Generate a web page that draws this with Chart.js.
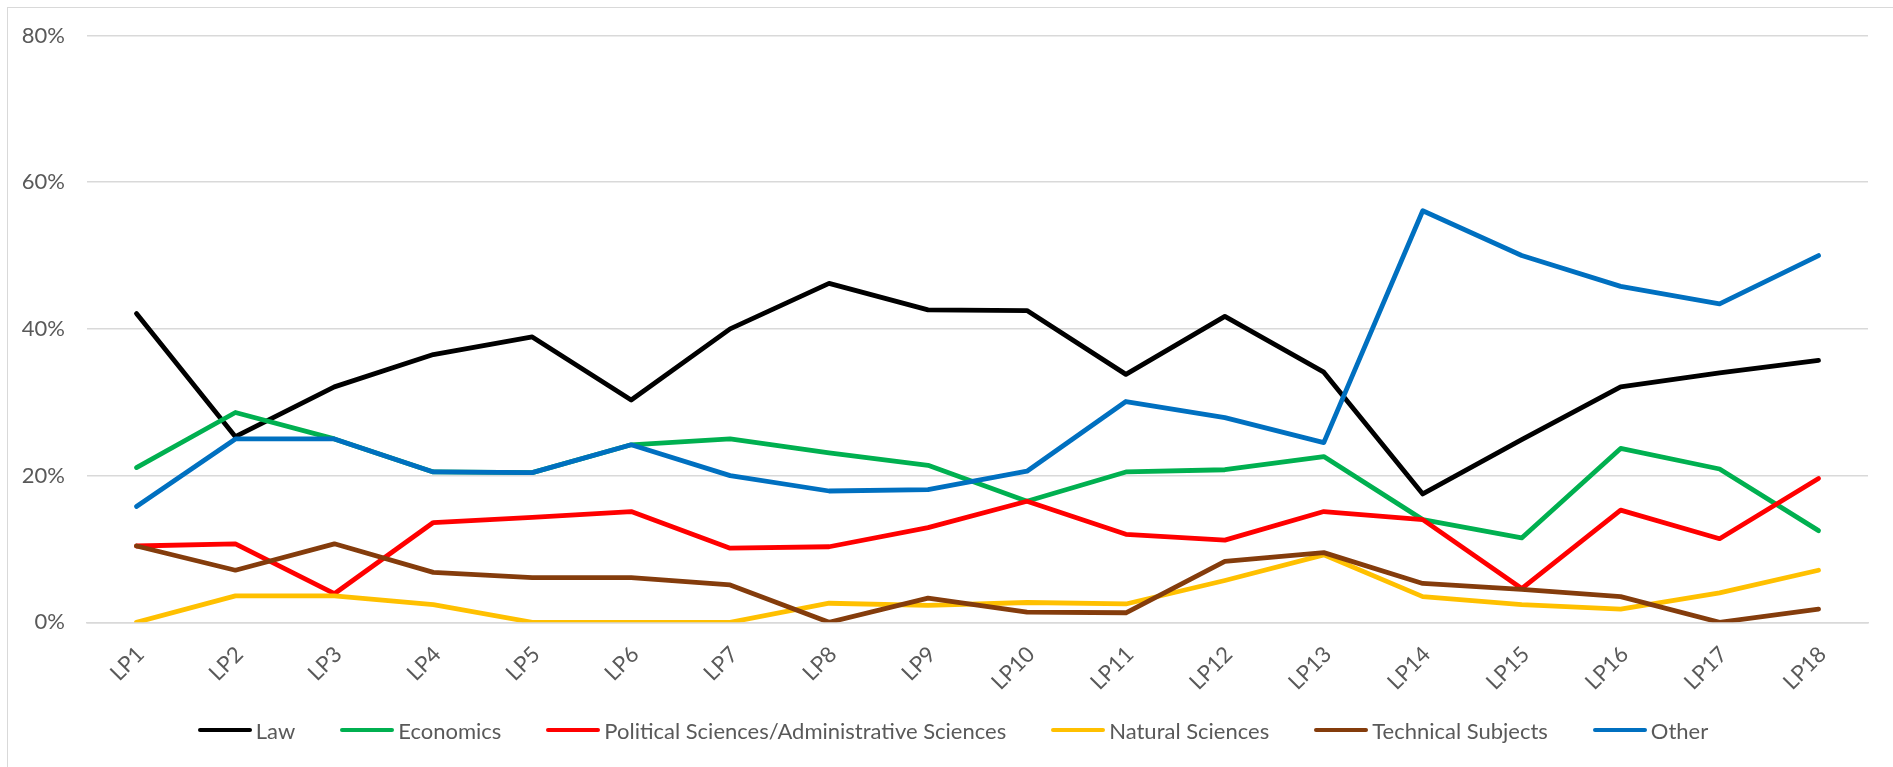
<!DOCTYPE html>
<html>
<head>
<meta charset="utf-8">
<title>Study backgrounds by LP</title>
<script src="https://cdn.jsdelivr.net/npm/chart.js@4.4.1/dist/chart.umd.min.js"></script>
<style>
  html, body { margin: 0; padding: 0; background: #fff; overflow: hidden; }
  #wrap { position: relative; width: 1893px; height: 767px; }
  #frame {
    position: absolute; left: 7px; top: 7px; width: 1910px; height: 800px;
    border: 1.5px solid #d9d9d9; box-sizing: border-box; pointer-events: none;
  }
  #chart { position: absolute; left: 0; top: 0; }
  #legend {
    position: absolute; left: 0; width: 1906px; top: 715px; height: 30px;
    display: flex; justify-content: center; align-items: center;
    font-family: Lato, "Liberation Sans", sans-serif; font-size: 22px; color: #595959;
  }
  #legend .item { display: flex; align-items: center; margin-right: 45px; white-space: nowrap; }
  #legend .item:last-child { margin-right: 0; }
  #legend .swatch { width: 54px; height: 4.8px; border-radius: 3px; margin-right: 4px; }
</style>
</head>
<body>
<div id="wrap">
  <div id="frame"></div>
  <canvas id="chart" width="1893" height="767"></canvas>
  <div id="legend"></div>
</div>
<script>
// values in percent
var LABELS = ['LP1', 'LP2', 'LP3', 'LP4', 'LP5', 'LP6', 'LP7', 'LP8', 'LP9',
  'LP10', 'LP11', 'LP12', 'LP13', 'LP14', 'LP15', 'LP16', 'LP17', 'LP18'];

var LAW = [42.1, 25.3, 32.1, 36.5, 38.9, 30.3, 40.0, 46.2, 42.6,
  42.5, 33.8, 41.7, 34.1, 17.5, 24.9, 32.1, 34.0, 35.7];
var ECONOMICS = [21.1, 28.6, 25.0, 20.5, 20.4, 24.2, 25.0, 23.1, 21.4,
  16.5, 20.5, 20.8, 22.6, 14.0, 11.5, 23.7, 20.9, 12.5];
var POLITICAL = [10.4, 10.7, 3.9, 13.6, 14.3, 15.1, 10.1, 10.3, 12.9,
  16.5, 12.0, 11.2, 15.1, 14.0, 4.6, 15.3, 11.4, 19.6];
var NATURAL = [0, 3.6, 3.6, 2.4, 0, 0, 0, 2.6, 2.3,
  2.7, 2.5, 5.7, 9.2, 3.5, 2.4, 1.8, 4.0, 7.1];
var TECHNICAL = [10.4, 7.1, 10.7, 6.8, 6.1, 6.1, 5.1, 0, 3.3,
  1.4, 1.3, 8.3, 9.5, 5.3, 4.5, 3.5, 0, 1.8];
var OTHER = [15.8, 25.0, 25.0, 20.5, 20.4, 24.2, 20.0, 17.9, 18.1,
  20.6, 30.1, 27.9, 24.5, 56.1, 50.0, 45.8, 43.4, 50.0];

var Y_TICKS = [0, 20, 40, 60, 80];

var SERIES = [
  { name: 'Law', data: LAW, color: '#000000' },
  { name: 'Economics', data: ECONOMICS, color: '#00b050' },
  { name: 'Political Sciences/Administrative Sciences', data: POLITICAL, color: '#ff0000' },
  { name: 'Natural Sciences', data: NATURAL, color: '#ffc000' },
  { name: 'Technical Subjects', data: TECHNICAL, color: '#843c0c' },
  { name: 'Other', data: OTHER, color: '#0070c0' }
];

var FONT = 'Lato, "Liberation Sans", sans-serif';
var TEXT = '#595959';
var GRID = '#d9d9d9';

var datasets = SERIES.map(function (s, i) {
  return {
    label: s.name,
    data: s.data,
    borderColor: s.color,
    backgroundColor: s.color,
    borderWidth: 4.8,
    borderCapStyle: 'round',
    borderJoinStyle: 'round',
    pointRadius: 0,
    pointHoverRadius: 0,
    tension: 0,
    fill: false,
    // later series are painted on top, as in the source
    order: SERIES.length - i
  };
});

new Chart(document.getElementById('chart'), {
  type: 'line',
  data: { labels: LABELS, datasets: datasets },
  options: {
    responsive: false,
    animation: false,
    devicePixelRatio: 1,
    layout: { padding: { left: 0, right: 25, top: 35.5, bottom: 0 } },
    plugins: {
      tooltip: { enabled: false },
      legend: { display: false }
    },
    scales: {
      x: {
        offset: true,
        grid: { display: false, drawTicks: false },
        border: { display: true, color: GRID, width: 1.5 },
        ticks: {
          minRotation: 45,
          maxRotation: 45,
          autoSkip: false,
          padding: 19,
          labelOffset: 4,
          color: TEXT,
          font: { family: FONT, size: 22 }
        },
        afterFit: function (scale) { scale.height = 767 - 35.5 - 586.8; }
      },
      y: {
        min: 0,
        max: 80,
        afterBuildTicks: function (scale) {
          scale.ticks = Y_TICKS.map(function (v) { return { value: v }; });
        },
        grid: { color: GRID, lineWidth: 1.5, drawTicks: false },
        border: { display: false },
        ticks: {
          padding: 22,
          color: TEXT,
          font: { family: FONT, size: 22 },
          callback: function (v) { return v + '%'; }
        },
        afterFit: function (scale) { scale.width = 87; }
      }
    }
  }
});

// legend in series order, line swatch + label
var legendEl = document.getElementById('legend');
SERIES.forEach(function (s) {
  var item = document.createElement('div');
  item.className = 'item';
  var sw = document.createElement('span');
  sw.className = 'swatch';
  sw.style.background = s.color;
  var txt = document.createElement('span');
  txt.textContent = s.name;
  item.appendChild(sw);
  item.appendChild(txt);
  legendEl.appendChild(item);
});
</script>
</body>
</html>
